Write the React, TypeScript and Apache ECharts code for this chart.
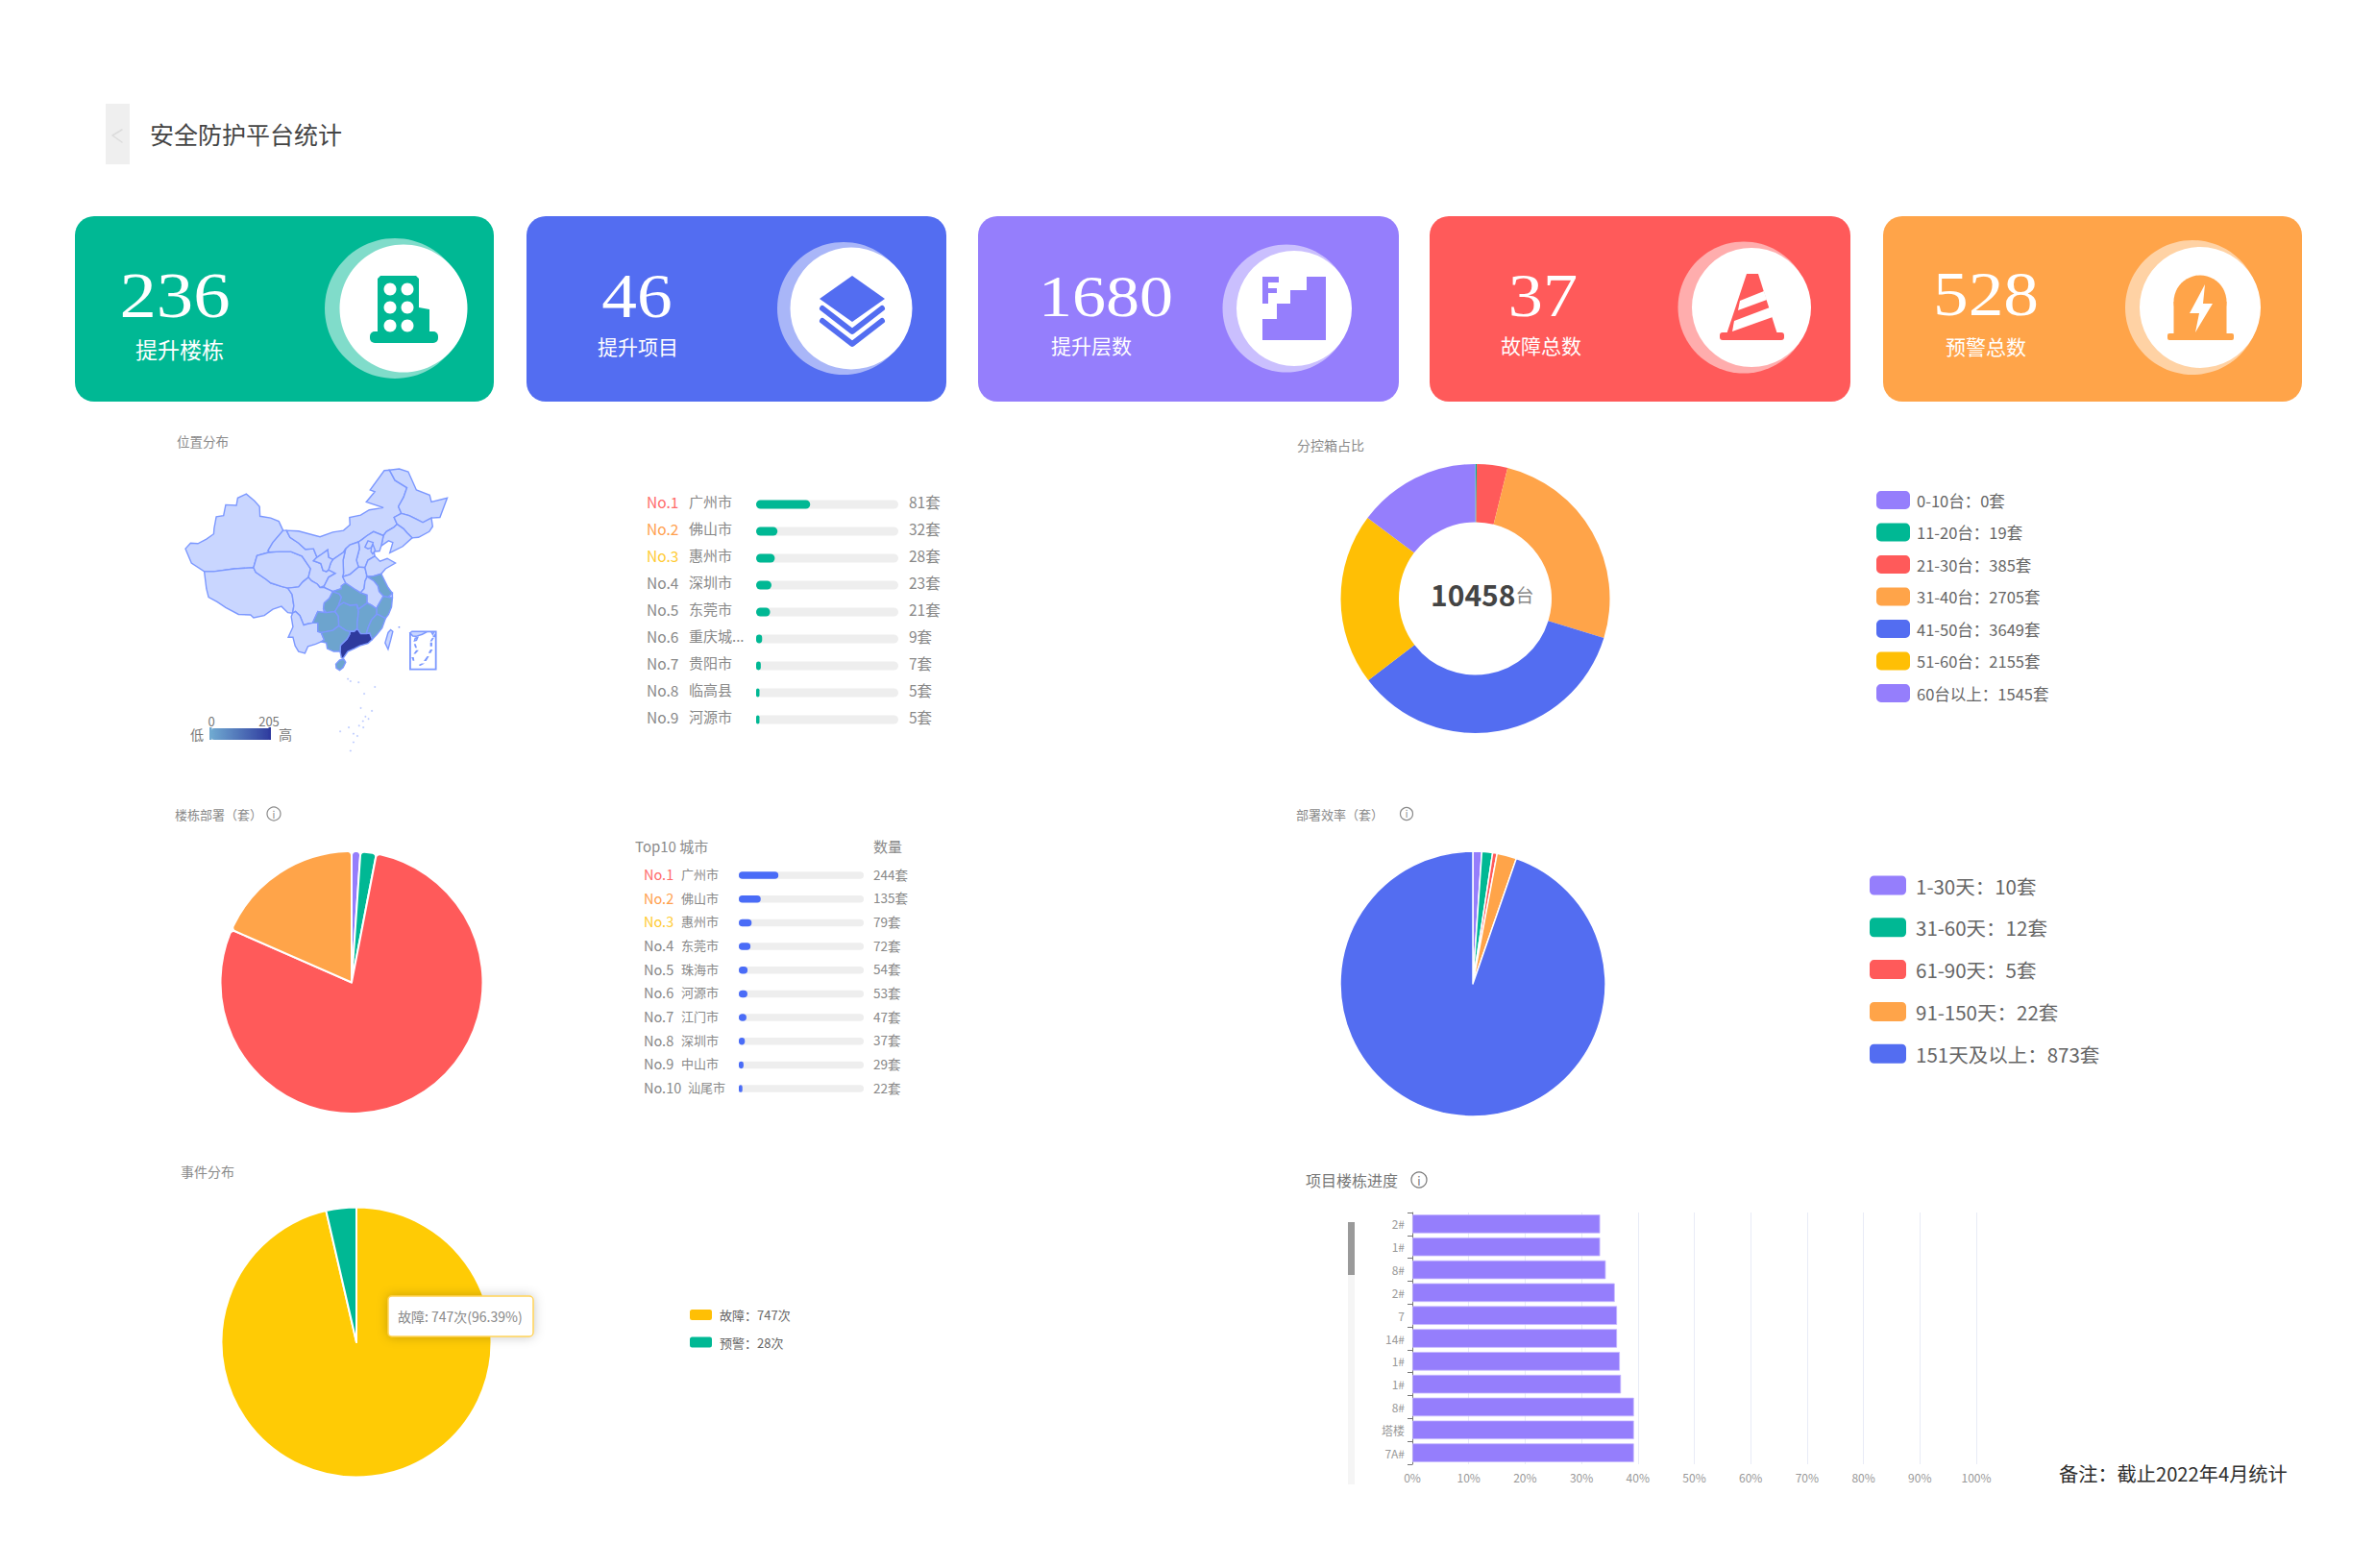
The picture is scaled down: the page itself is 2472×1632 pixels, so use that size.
import React, { useEffect, useRef } from "react";
import * as echarts from "echarts";

const FONT = '"Noto Sans CJK SC", "Noto Sans", sans-serif';

// ---------- data ----------
const pageTitle = "安全防护平台统计";
const cardValues = ["236", "46", "1680", "37", "528"];
const cardLabels = ["提升楼栋", "提升项目", "提升层数", "故障总数", "预警总数"];

const locationCities = ["广州市", "佛山市", "惠州市", "深圳市", "东莞市", "重庆城...", "贵阳市", "临高县", "河源市"];
const locationCounts = [81, 32, 28, 23, 21, 9, 7, 5, 5];

const topCities = ["广州市", "佛山市", "惠州市", "东莞市", "珠海市", "河源市", "江门市", "深圳市", "中山市", "汕尾市"];
const topCounts = [244, 135, 79, 72, 54, 53, 47, 37, 29, 22];

const boxNames = ["0-10台", "11-20台", "21-30台", "31-40台", "41-50台", "51-60台", "60台以上"];
const boxValues = [0, 19, 385, 2705, 3649, 2155, 1545];
const boxTotal = "10458";

const buildingNames = ["一类", "二类", "三类", "四类"];
const buildingValues = [10, 18, 725, 170];

const speedNames = ["1-30天", "31-60天", "61-90天", "91-150天", "151天及以上"];
const speedValues = [10, 12, 5, 22, 873];

const eventNames = ["故障", "预警"];
const eventValues = [747, 28];
const eventTip = "故障: 747次(96.39%)";

const progressNames = ["2#", "1#", "8#", "2#", "7", "14#", "1#", "1#", "8#", "塔楼", "7A#"];
const progressValues = [33.3, 33.3, 34.3, 35.9, 36.3, 36.3, 36.8, 37, 39.3, 39.3, 39.3];

const regionNames = ["广东", "江苏", "浙江", "福建", "江西", "湖南", "湖北", "广西", "贵州", "海南", "重庆"];
const regionValues = [205, 8, 6, 5, 5, 6, 6, 7, 7, 5, 9];

const note = "备注：截止2022年4月统计";

// ---------- simplified province outlines (lon, lat) ----------
type P = [number, number];
const outlines: Record<string, P[]> = {
  新疆: [[73.6,39.5],[74.8,40.5],[76.5,40.4],[78.5,41.2],[80.2,42.1],[80.3,43.1],[80.8,45.1],[82.5,45.3],[83,47.2],[85.5,47.1],[85.8,48.4],[87.8,49.1],[89.7,47.9],[90.9,46.9],[91,45.2],[93.5,44.9],[95.4,44.3],[96.4,42.7],[94,40.6],[92.9,39.2],[93.2,38.9],[90.3,38.3],[89.5,36.2],[85,36],[80.2,35.5],[78,35.5],[75,37]],
  西藏: [[78,35.5],[80.2,35.5],[85,36],[89.5,36.2],[90,35.4],[92.5,34.1],[93.5,33.5],[96,32.9],[97.5,32.6],[98.5,31.5],[98.9,29.5],[98.6,28.2],[97.5,28.3],[96,29.4],[94,28.9],[92,27.8],[89.5,27.4],[88.8,27.9],[86,28],[83,29.2],[81,30.2],[79,31],[78.5,32.5]],
  青海: [[89.5,36.2],[90.3,38.3],[93.2,38.9],[95.5,39],[98.2,39],[100.8,38.2],[102.8,36],[102.3,34.5],[101,33.7],[100,32.8],[97.5,32.6],[96,32.9],[93.5,33.5],[92.5,34.1],[90,35.4]],
  甘肃: [[92.9,39.2],[94,40.6],[96.4,42.7],[97.2,42.7],[98,41.5],[100,40.5],[101.6,39.4],[103.5,39.5],[104.3,38],[103.5,37.4],[105.2,36.9],[105.7,35.7],[106.5,35.5],[107,35.8],[108.6,35.2],[107,34.5],[106,33],[105,32.7],[104.4,33.3],[103,33.9],[102.3,34.5],[102.8,36],[100.8,38.2],[98.2,39],[95.5,39],[93.2,38.9]],
  内蒙古: [[97.2,42.7],[100,42.6],[105,41.6],[108,42.4],[110.5,42.7],[112,43.7],[111.9,45],[114.5,45.4],[116.5,46.3],[119.8,46.7],[115.8,47.7],[117.8,49.5],[116.7,49.8],[120,53.2],[121.2,53.3],[122.5,51.5],[125.3,50.2],[124.5,48.5],[123.3,46.9],[124,45.7],[122.3,45],[123,43.8],[122.3,43.3],[120.5,42.5],[119.8,41.8],[117.5,42.5],[116,41.8],[114.8,41.1],[114,40.7],[112,40.2],[111,39.5],[110.5,38.9],[108,37.6],[107,38],[106.8,39.3],[105.5,38.6],[104.3,38],[103.5,39.5],[101.6,39.4],[100,40.5],[98,41.5]],
  黑龙江: [[121.2,53.3],[123.5,53.5],[125.6,53],[127.5,49.8],[130.6,48.9],[131,47.7],[134.7,48.4],[133,45],[131,44.9],[129,44.1],[127.5,44.7],[125.8,45.3],[124,45.7],[123.3,46.9],[124.5,48.5],[125.3,50.2],[122.5,51.5]],
  吉林: [[124,45.7],[125.8,45.3],[127.5,44.7],[129,44.1],[131,44.9],[131.3,43.4],[130.5,42.5],[128,41.5],[126.5,41.4],[125.3,42.3],[124.5,43],[123,43.8],[122.3,45]],
  辽宁: [[123,43.8],[124.5,43],[125.3,42.3],[126.5,41.4],[124.3,39.9],[121.3,38.8],[122,40.6],[121,40.9],[119.3,40],[119.8,41.8],[120.5,42.5],[122.3,43.3]],
  河北: [[119.3,40],[119.8,41.8],[117.5,42.5],[116,41.8],[114.8,41.1],[114,40.7],[114.2,39.5],[113.5,37.5],[114,36.3],[115.5,36.2],[116.2,37.5],[117.8,38.2],[117.6,39],[118.9,39.1]],
  北京: [[115.5,39.8],[116.2,40.9],[117.4,40.6],[117,39.7],[116.2,39.5]],
  天津: [[117,39.7],[117.4,40.2],[117.9,39.2],[117.3,38.6],[116.9,39]],
  山西: [[114,40.7],[112,40.2],[111,39.5],[110.4,37.5],[110.5,35.2],[110.3,34.6],[112,35],[114,36.3],[113.5,37.5],[114.2,39.5]],
  陕西: [[110.5,38.9],[111,39.5],[110.4,37.5],[110.5,35.2],[110.3,34.6],[111,33.5],[110,33],[110,32.5],[108,32],[106,32.7],[106,33],[107,34.5],[108.6,35.2],[107,35.8],[107.5,37],[108,37.6]],
  宁夏: [[107,38],[106.8,39.3],[105.5,38.6],[104.3,38],[103.5,37.4],[105.2,36.9],[105.7,35.7],[106.5,35.5],[107,35.8],[107.5,37],[108,37.6]],
  四川: [[97.5,32.6],[100,32.8],[101,33.7],[102.3,34.5],[103,33.9],[104.4,33.3],[105,32.7],[106,32.7],[108,32],[107.2,30.8],[106,30],[105.8,29],[106,28.3],[104.5,28.5],[103.3,26.5],[102,26.3],[101.2,26.1],[100.3,27.8],[99.3,28.5],[98.6,28.2],[98.9,29.5],[98.5,31.5]],
  重庆: [[108,32],[109.5,31.6],[110,31],[109.3,29.5],[108.5,28.5],[106.5,28.3],[105.8,29],[106,30],[107.2,30.8]],
  云南: [[98.6,28.2],[99.3,28.5],[100.3,27.8],[101.2,26.1],[102,26.3],[103.3,26.5],[104.5,26.5],[104.5,25],[105.3,24.8],[106,23.5],[105.3,23.2],[104,22.8],[102.2,22.4],[101.5,21.2],[100,21.5],[99.2,22.5],[98.7,24],[97.6,24],[98.7,25.8],[98.3,27.6]],
  贵州: [[104.5,26.5],[103.3,26.5],[104.5,28.5],[106,28.3],[106.5,28.3],[108.5,28.5],[109.3,27.7],[109.4,26],[108,25.2],[106,24.9],[105.3,24.8],[104.5,25]],
  湖南: [[109.3,29.5],[110.5,30.1],[112,29.6],[113.6,29.7],[114,28.5],[113.7,26.5],[113.7,25.5],[113,25],[112,25],[111,25.2],[109.4,26],[109.3,27.7],[108.5,28.5]],
  湖北: [[108,32],[110,32.5],[110,33],[111,33.5],[113,32.5],[114.5,31.8],[116,31.4],[116,30],[114,28.9],[113.6,29.7],[112,29.6],[110.5,30.1],[109.3,29.5],[110,31],[109.5,31.6]],
  河南: [[110.3,34.6],[112,35],[114,36.3],[115.5,36.2],[116,34.6],[115.5,33.8],[115.3,32.5],[114.5,31.8],[113,32.5],[111,33.5]],
  山东: [[115.5,36.2],[116.2,37.5],[117.8,38.2],[119,37.3],[120.7,37.8],[122.6,37],[120.3,36],[119.3,35.1],[117.5,34.7],[116,34.6]],
  江苏: [[116,34.6],[117.5,34.7],[119.3,35.1],[120.9,32.7],[121.9,31.7],[120.9,31],[119.8,31.2],[118.8,32],[118.5,33],[117.5,33.9]],
  上海: [[120.9,31],[121.9,31.7],[121.9,30.9]],
  安徽: [[115.5,33.8],[116,34.6],[117.5,33.9],[118.5,33],[118.8,32],[119.8,31.2],[118.5,29.5],[118.2,29],[117,29.6],[116,30],[116,31.4],[114.5,31.8],[115.3,32.5]],
  浙江: [[118.5,29.5],[119.8,31.2],[120.9,31],[121.9,30.9],[121.7,29.3],[121,28],[120.3,27.3],[118.5,28],[118.2,28],[118.2,29]],
  江西: [[114,28.9],[116,30],[117,29.6],[118.2,29],[118.2,28],[117,27],[116.3,25.8],[115.8,24.6],[114.5,24.6],[113.7,25.5],[113.7,26.5],[114,28.5],[113.6,29.7]],
  福建: [[118.2,28],[118.5,28],[120.3,27.3],[119.5,25.6],[118.2,24.4],[117.2,23.6],[116.6,24.7],[115.8,24.6],[116.3,25.8],[117,27]],
  广东: [[109.7,21.5],[109.8,22.6],[111.3,23.7],[111.9,24.5],[112,25],[113,25],[113.7,25.5],[114.5,24.6],[115.8,24.6],[116.6,24.7],[117.2,23.6],[116.2,22.9],[114.3,22.5],[113,22],[111.5,21.5],[110.4,20.3],[110,20.4]],
  广西: [[105.3,24.8],[106,24.9],[108,25.2],[109.4,26],[111,25.2],[112,25],[111.9,24.5],[111.3,23.7],[109.8,22.6],[109.7,21.5],[108.2,21.5],[106.7,22],[106.5,23],[105.3,23.2],[106,23.5]],
  海南: [[108.7,19.3],[109.6,20],[110.6,20.1],[111,19.6],[110.4,18.7],[109.6,18.2],[108.8,18.6]],
  台湾: [[121.5,25.3],[122,25],[121.5,23.5],[120.9,21.9],[120.2,23],[120.9,24.8]],
};
const islets: P[] = [[111.4,16.6],[112,16.2],[113.9,16],[117.7,15.2],[115.2,14],[114.4,11.5],[117,11],[115.5,10],[116.2,9.6],[114.9,9.2],[114,8.4],[115,8.1],[111.6,8.1],[109.6,7.4],[112.7,7],[113.6,6.6],[112.7,5.5],[112,4]];

function chinaGeo() {
  const features: any[] = Object.keys(outlines).map((name) => ({
    type: "Feature",
    properties: { name },
    geometry: { type: "Polygon", coordinates: [[...outlines[name], outlines[name][0]]] },
  }));
  features.push({
    type: "Feature",
    properties: { name: "岛礁" },
    geometry: {
      type: "MultiPolygon",
      coordinates: islets.map(([x, y]) => [[[x, y], [x + 0.25, y], [x + 0.25, y + 0.18], [x, y + 0.18], [x, y]]]),
    },
  });
  return { type: "FeatureCollection", features };
}

// ---------- palette ----------
const GREEN = "#00B894";
const BLUE = "#536DF1";
const PURPLE = "#957EFC";
const RED = "#FF5A5A";
const ORANGE = "#FFA449";
const AMBER = "#FFBF05";
const YELLOW = "#FFCB05";

// ---------- graphic helpers ----------
const label = (text: string, x: number, y: number, size: number, fill: string, align = "left", family = FONT, extra: any = {}) => ({
  type: "text",
  x,
  y,
  z: 50,
  ...extra,
  style: { text, fill, fontSize: size, fontFamily: family, textAlign: align, textVerticalAlign: "middle" },
});
const rect = (x: number, y: number, width: number, height: number, fill: string, r = 0, z = 20, extra: any = {}) => ({
  type: "rect",
  z,
  shape: { x, y, width, height, r },
  style: { fill, ...extra },
});
const circle = (cx: number, cy: number, r: number, fill: string, z = 22) => ({ type: "circle", z, shape: { cx, cy, r }, style: { fill } });
const poly = (points: number[][], fill: string, z = 24) => ({ type: "polygon", z, shape: { points }, style: { fill } });
const line = (points: number[][], stroke: string, lineWidth: number, z = 24) => ({
  type: "polyline",
  z,
  shape: { points },
  style: { stroke, lineWidth, fill: "none", lineJoin: "round", lineCap: "round" },
});
const infoIcon = (cx: number, cy: number, r: number, color: string) => [
  { type: "circle", z: 30, shape: { cx, cy, r }, style: { fill: "none", stroke: color, lineWidth: 1.2 } },
  label("i", cx, cy, r * 1.5, color, "center"),
];

const cardBoxes = [
  { x: 78, w: 436, numX: 182, labelX: 187, numY: 307, labelY: 363, numSize: 68, labelSize: 23, c: [420, 321, 66.5], h: [411, 321, 73], color: GREEN },
  { x: 548, w: 437, numX: 663, labelX: 664, numY: 308, labelY: 360, numSize: 65, labelSize: 21, c: [886, 321, 63.5], h: [878, 321, 69], color: BLUE },
  { x: 1018, w: 438, numX: 1151, labelX: 1136, numY: 308, labelY: 359, numSize: 62, labelSize: 21, c: [1347, 321, 60], h: [1339, 321, 66.5], color: PURPLE },
  { x: 1488, w: 438, numX: 1606, labelX: 1604, numY: 307, labelY: 359, numSize: 64, labelSize: 21, c: [1823, 320, 62], h: [1815, 320, 68.5], color: RED },
  { x: 1960, w: 436, numX: 2067, labelX: 2067, numY: 306, labelY: 360, numSize: 65, labelSize: 21, c: [2290, 320, 63], h: [2282, 320, 70], color: ORANGE },
];

const SERIF = '"Liberation Serif", serif';

function cardGraphics() {
  const out: any[] = [];
  cardBoxes.forEach((b, i) => {
    out.push(rect(b.x, 225, b.w, 193, b.color, 20));
    out.push(label(cardValues[i], b.numX, b.numY, b.numSize, "#fff", "center", SERIF, { scaleX: 1.13 }));
    out.push(label(cardLabels[i], b.labelX, b.labelY, b.labelSize, "#fff", "center"));
    out.push(circle(b.h[0], b.h[1], b.h[2], "rgba(255,255,255,0.5)", 21));
    out.push(circle(b.c[0], b.c[1], b.c[2], "#fff", 22));
  });
  // building
  out.push(poly([[393, 290], [396, 287], [433, 287], [436, 290], [436, 320], [447, 322], [447, 350], [393, 350]], GREEN));
  out.push(rect(385, 345, 71, 12, GREEN, 5, 24));
  [301, 320, 339].forEach((y) =>
    [406, 424].forEach((x) => out.push({ type: "ellipse", z: 25, shape: { cx: x, cy: y, rx: 6.5, ry: 6.5 }, style: { fill: "#fff" } }))
  );
  // layers
  out.push(poly([[887, 287], [921, 311], [887, 335], [853, 311]], BLUE));
  out.push(line([[856, 321], [887, 345], [918, 321]], BLUE, 6));
  out.push(line([[856, 334], [887, 358], [918, 334]], BLUE, 6));
  // stairs + F
  out.push(poly([[1360, 288], [1380, 288], [1380, 354], [1314, 354], [1314, 332], [1329, 332], [1329, 316], [1343, 316], [1343, 302], [1360, 302]], PURPLE));
  out.push(poly([[1314, 288], [1331, 288], [1331, 294], [1320, 294], [1320, 300], [1329, 300], [1329, 305], [1320, 305], [1320, 316], [1314, 316]], PURPLE));
  // cone
  out.push(poly([[1818, 285], [1830, 285], [1850, 348], [1797, 348]], RED));
  out.push(rect(1790, 346, 67, 8, RED, 3, 24));
  out.push(poly([[1811, 313], [1836, 303], [1839, 312], [1809, 323]], "#fff", 25));
  out.push(poly([[1805, 334], [1842, 320], [1845, 330], [1803, 345]], "#fff", 25));
  // alarm
  out.push(circle(2290, 314, 27.5, ORANGE, 24));
  out.push(rect(2262.5, 314, 55, 36, ORANGE, 0, 24));
  out.push(rect(2256, 347, 69, 7, ORANGE, 2, 24));
  out.push(poly([[2295, 296], [2279, 326], [2289, 326], [2285, 346], [2303, 316], [2293, 316]], "#fff", 25));
  return out;
}

function pageGraphics() {
  const gray = "#8a8a8a";
  return [
    rect(110, 108, 25, 63, "#efefef"),
    line([[127, 135], [117, 141], [127, 148]], "#dcdcdc", 1.5),
    label(pageTitle, 156, 138.5, 25, "#444"),
    ...cardGraphics(),
    label("位置分布", 184, 459, 13.5, gray),
    label("分控箱占比", 1350, 463, 14, gray),
    label("楼栋部署（套）", 182, 847, 13, gray),
    ...infoIcon(285, 847, 7, gray),
    label("部署效率（套）", 1349, 847, 13, gray),
    ...infoIcon(1464, 847, 6.5, gray),
    label("项目楼栋进度", 1359, 1228, 16, "#777"),
    ...infoIcon(1477, 1228, 8, "#777"),
    label("事件分布", 188, 1219, 14, gray),
    label("Top10 城市", 661, 880, 15, gray),
    label("数量", 909, 880, 15, gray),
    label("0", 220, 750, 13, "#777", "center"),
    label("205", 280, 750, 13, "#777", "center"),
    rect(218, 757, 2.5, 13, "#6fa8d0", 0, 40),
    rect(279.5, 757, 2.5, 13, "#2e3a9e", 0, 40),
    {
      type: "text",
      z: 50,
      x: 1489,
      y: 618,
      style: {
        text: `{a|${boxTotal}}{b|台}`,
        textVerticalAlign: "middle",
        rich: {
          a: { fontSize: 30, fontWeight: "bold", fill: "#444", fontFamily: FONT },
          b: { fontSize: 19, fill: "#888", fontFamily: FONT },
        },
      },
    },
    rect(404, 1349, 151, 42, "#fff", 4, 60, { stroke: "#FFD257", lineWidth: 1.5, shadowBlur: 12, shadowColor: "rgba(0,0,0,0.22)" }),
    { ...label(eventTip, 414, 1370, 14, "#888"), z: 61 },
    rect(1403, 1272, 7, 273, "#f5f5f5"),
    rect(1403, 1272, 7, 55, "#9a9a9a", 0, 21),
    label(note, 2143, 1533.5, 20.2, "#2e2e2e"),
  ];
}

const RANK_COLORS = ["#FF6B6B", "#FFA04D", "#FFCB33"];

function rankRich(size: number, noSize: number, noWidth: number, longWidth: number, count: number) {
  const rich: any = { c: { fontSize: size, color: "#888", fontFamily: FONT } };
  for (let i = 0; i < count; i++) {
    rich[`n${i}`] = {
      fontSize: noSize,
      color: RANK_COLORS[i] || "#888",
      width: i === 9 ? longWidth : noWidth,
      align: "left",
      fontFamily: FONT,
    };
  }
  return rich;
}

function rankGrid(index: number, names: string[], counts: number[], top: number, height: number, left: number, width: number, max: number, color: string, barWidth: number, size: number, noSize: number, noWidth: number, leftMargin: number, rightMargin: number, lift: number) {
  const yIdx = index * 2;
  return {
    grid: { left, top, width, height, containLabel: false },
    xAxis: { gridIndex: index, type: "value", min: 0, max, show: false },
    yAxes: [
      {
        gridIndex: index,
        type: "category",
        inverse: true,
        data: names,
        axisLine: { show: false },
        axisTick: { show: false },
        axisLabel: {
          interval: 0,
          align: "left",
          margin: leftMargin,
          padding: [0, 0, lift, 0],
          formatter: (v: string, i: number) => `{n${i}|No.${i + 1}}{c|${v}}`,
          rich: rankRich(size, noSize, noWidth, noWidth + 7, names.length),
        },
      },
      {
        gridIndex: index,
        type: "category",
        position: "right",
        inverse: true,
        data: counts.map((v) => `${v}套`),
        axisLine: { show: false },
        axisTick: { show: false },
        axisLabel: {
          interval: 0,
          align: "left",
          margin: rightMargin,
          padding: [0, 0, lift, 0],
          formatter: (v: string) => `{v|${v}}`,
          rich: { v: { fontSize: size + 0.5, color: "#888", fontFamily: FONT } },
        },
      },
    ],
    series: {
      type: "bar",
      xAxisIndex: index,
      yAxisIndex: yIdx,
      data: counts,
      barWidth,
      showBackground: true,
      backgroundStyle: { color: "#EEEEEE", borderRadius: barWidth / 2 },
      itemStyle: { color, borderRadius: barWidth / 2 },
      silent: true,
    },
  };
}

function legendOf(names: string[], values: number[], unit: string, left: number, top: number, w: number, h: number, gap: number, size: number, pad: number, colors?: string[]) {
  return {
    orient: "vertical",
    left,
    top,
    padding: 0,
    icon: "roundRect",
    itemWidth: w,
    itemHeight: h,
    itemGap: gap,
    selectedMode: false,
    data: names.map((name, i) => (colors ? { name, itemStyle: { color: colors[i] } } : { name })),
    textStyle: { color: "#666", fontSize: size, fontFamily: FONT, padding: [0, 0, 0, pad] },
    formatter: (n: string) => `${n}：${values[names.indexOf(n)]}${unit}`,
  };
}

function pie(names: string[], values: number[], colors: string[], center: number[], radius: number[], itemStyle: any = {}) {
  return {
    type: "pie",
    center,
    radius,
    startAngle: 90,
    silent: true,
    label: { show: false },
    labelLine: { show: false },
    itemStyle,
    data: names.map((name, i) => ({ name, value: values[i], itemStyle: { color: colors[i] } })),
  };
}

function buildOption() {
  const list1 = rankGrid(0, locationCities, locationCounts, 511, 252, 787, 148, 213, GREEN, 9, 15, 15.5, 44, 114, 11, 7);
  const list2 = rankGrid(1, topCities, topCounts, 898.7, 246.7, 769, 130, 770, "#4A6CF7", 7.5, 13, 14.5, 39, 99, 10, 3);

  return {
    animation: false,
    backgroundColor: "#fff",
    textStyle: { fontFamily: FONT },
    tooltip: { show: false },
    graphic: { elements: pageGraphics() },
    visualMap: {
      type: "continuous",
      seriesIndex: 0,
      min: 0,
      max: 205,
      orient: "horizontal",
      left: 198,
      top: 757,
      padding: 0,
      itemWidth: 12,
      itemHeight: 62,
      text: ["高", "低"],
      textGap: 8,
      calculable: false,
      textStyle: { color: "#777", fontSize: 14, fontFamily: FONT },
      inRange: { color: ["#6FA8D0", "#2E3A9E"] },
    },
    legend: [
      legendOf(boxNames, boxValues, "套", 1953, 511, 35, 19, 14.5, 16.5, 2),
      legendOf(speedNames, speedValues, "套", 1944, 909.5, 40, 22, 19.8, 20.5, 4),
      legendOf(eventNames, eventValues, "次", 716, 1361, 25, 13, 13.6, 13, 2, [AMBER, GREEN]),
    ],
    grid: [
      list1.grid,
      list2.grid,
      { left: 1470, top: 1262, width: 587, height: 262, containLabel: false },
    ],
    xAxis: [
      list1.xAxis,
      list2.xAxis,
      {
        gridIndex: 2,
        type: "value",
        min: 0,
        max: 100,
        interval: 10,
        axisLine: { show: false },
        axisTick: { show: false },
        splitLine: { show: true, lineStyle: { color: "#E8EBF6" } },
        axisLabel: { formatter: "{value}%", color: "#999", fontSize: 12, margin: 7, fontFamily: FONT },
      },
    ],
    yAxis: [
      ...list1.yAxes,
      ...list2.yAxes,
      {
        gridIndex: 2,
        type: "category",
        inverse: true,
        data: progressNames,
        axisLine: { show: true, lineStyle: { color: "#777" } },
        axisTick: { show: true, length: 5, lineStyle: { color: "#777" } },
        axisLabel: { interval: 0, color: "#999", fontSize: 12, margin: 8, fontFamily: FONT },
      },
    ],
    series: [
      {
        type: "map",
        map: "china",
        left: 193,
        top: 488,
        width: 272.5,
        height: 294,
        aspectScale: 0.75,
        roam: false,
        silent: true,
        showLegendSymbol: false,
        label: { show: false },
        itemStyle: { areaColor: "#C9D6FF", borderColor: "#7C98FF", borderWidth: 1.4 },
        data: [
          ...regionNames.map((name, i) => ({ name, value: regionValues[i] })),
          { name: "岛礁", itemStyle: { areaColor: "#C9D6FF", borderColor: "#B4C4FF", borderWidth: 0.6 } },
        ],
      },
      pie(boxNames, boxValues, [PURPLE, GREEN, RED, ORANGE, BLUE, AMBER, PURPLE], [1535.5, 623], [79.5, 140]),
      pie(buildingNames, buildingValues, [PURPLE, GREEN, RED, ORANGE], [366, 1022.5], [0, 136.5], { borderColor: "#fff", borderWidth: 2, borderRadius: 4 }),
      pie(speedNames, speedValues, [PURPLE, GREEN, RED, ORANGE, BLUE], [1533, 1024], [0, 138], { borderColor: "#fff", borderWidth: 1.5 }),
      pie(eventNames, eventValues, [YELLOW, GREEN], [371, 1397], [0, 140.5], { borderColor: "#fff", borderWidth: 2 }),
      list1.series,
      list2.series,
      {
        type: "bar",
        xAxisIndex: 2,
        yAxisIndex: 4,
        data: progressValues,
        barWidth: 19.5,
        silent: true,
        itemStyle: { color: PURPLE, borderColor: "#C6B9FF", borderWidth: 0.8 },
      },
    ],
  };
}

export default function App() {
  const ref = useRef<HTMLDivElement>(null);
  useEffect(() => {
    document.body.style.margin = "0";
    document.body.style.background = "#fff";
    echarts.registerMap("china", chinaGeo() as any);
    const chart = echarts.init(ref.current!, undefined, { renderer: "svg" });
    chart.setOption(buildOption() as any);
    return () => chart.dispose();
  }, []);
  return <div ref={ref} style={{ position: "absolute", left: 0, top: 0, width: 2472, height: 1632 }} />;
}
